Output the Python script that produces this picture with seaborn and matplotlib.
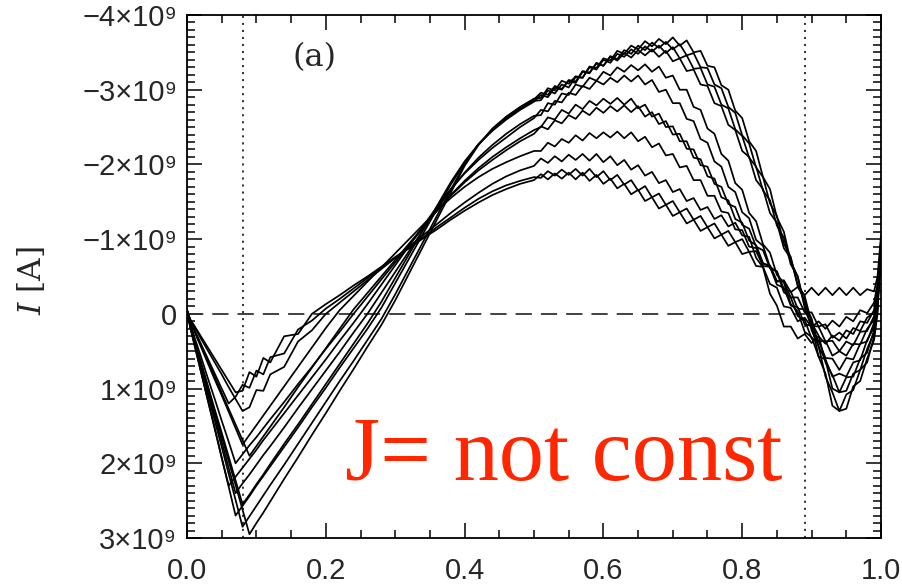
import matplotlib
matplotlib.use("Agg")
import matplotlib.pyplot as plt
from matplotlib.ticker import MultipleLocator, FuncFormatter
import pandas as pd
import seaborn as sns

# normalised position along the loop
x_pos = [0.0, 0.005, 0.01, 0.02, 0.03, 0.04, 0.05, 0.06, 0.07, 0.08, 0.09, 0.10, 0.11, 0.12,
         0.14, 0.16, 0.18, 0.20, 0.22, 0.24, 0.26, 0.28, 0.30, 0.32, 0.34, 0.36, 0.38, 0.40,
         0.42, 0.44, 0.46, 0.48, 0.50,
         0.51, 0.52, 0.53, 0.54, 0.55, 0.56, 0.57, 0.58, 0.59, 0.60,
         0.61, 0.62, 0.63, 0.64, 0.65, 0.66, 0.67, 0.68, 0.69, 0.70,
         0.71, 0.72, 0.73, 0.74, 0.75, 0.76, 0.77, 0.78, 0.79, 0.80,
         0.81, 0.82, 0.83, 0.84, 0.85, 0.86, 0.87, 0.88, 0.89, 0.90,
         0.91, 0.92, 0.93, 0.94, 0.95, 0.96, 0.97, 0.98,
         0.99, 0.995, 1.0]

# current profiles, in units of 1e9 A
i_01 = [-0.05, 0.16, 0.33, 0.66, 0.98, 1.31, 1.64, 1.97, 2.29, 2.62, 2.95, 2.80, 2.66, 2.51,
        2.21, 1.92, 1.62, 1.33, 1.03, 0.74, 0.44, 0.15, -0.18, -0.54, -0.90, -1.26, -1.62, -1.98, -2.26, -2.48, -2.64, -2.77, -2.88,
        -2.89, -3.02, -2.99, -3.12, -3.08, -3.18, -3.16, -3.31, -3.29, -3.42,
        -3.39, -3.52, -3.48, -3.59, -3.54, -3.65, -3.58, -3.68, -3.61, -3.70,
        -3.59, -3.66, -3.50, -3.52, -3.32, -3.30, -3.06, -3.00, -2.72, -2.62,
        -2.31, -2.18, -1.83, -1.67, -1.29, -1.10, -0.70, -0.50, -0.08, 0.14,
        0.57, 0.80, 1.23, 1.30, 1.27, 0.97, 0.90, 0.60,
        0.35, 0.0, -1.0]
i_02 = [-0.03, 0.18, 0.36, 0.71, 1.07, 1.43, 1.78, 2.14, 2.49, 2.85, 2.71, 2.57, 2.43, 2.29,
        2.02, 1.74, 1.46, 1.18, 0.90, 0.63, 0.35, 0.07, -0.26, -0.61, -0.96, -1.31, -1.66, -2.00, -2.27, -2.47, -2.63, -2.76, -2.87,
        -2.96, -2.93, -3.05, -3.01, -3.12, -3.09, -3.24, -3.22, -3.36, -3.32,
        -3.45, -3.41, -3.53, -3.48, -3.59, -3.53, -3.63, -3.56, -3.64, -3.54,
        -3.61, -3.46, -3.49, -3.30, -3.29, -3.07, -3.02, -2.77, -2.69, -2.39,
        -2.28, -1.96, -1.83, -1.48, -1.31, -0.94, -0.76, -0.37, -0.18, 0.22,
        0.43, 0.84, 1.05, 1.30, 1.08, 1.02, 0.75, 0.65,
        0.30, -0.05, -0.95]
i_03 = [-0.06, 0.19, 0.39, 0.77, 1.16, 1.54, 1.93, 2.31, 2.70, 2.57, 2.44, 2.30, 2.17, 2.04,
        1.78, 1.52, 1.25, 0.99, 0.72, 0.46, 0.20, -0.08, -0.41, -0.74, -1.07, -1.40, -1.73, -2.02, -2.27, -2.46, -2.61, -2.74, -2.85,
        -2.86, -2.99, -2.95, -3.07, -3.03, -3.17, -3.16, -3.30, -3.27, -3.40,
        -3.36, -3.48, -3.44, -3.54, -3.48, -3.58, -3.51, -3.59, -3.49, -3.57,
        -3.42, -3.46, -3.28, -3.29, -3.07, -3.04, -2.80, -2.75, -2.47, -2.38,
        -2.09, -1.97, -1.65, -1.52, -1.18, -1.02, -0.66, -0.50, -0.12, 0.06,
        0.44, 0.62, 1.00, 1.05, 1.03, 0.80, 0.75, 0.47,
        0.25, -0.10, -0.85]
i_04 = [-0.04, 0.16, 0.32, 0.64, 0.96, 1.28, 1.59, 1.91, 2.23, 2.55, 2.42, 2.28, 2.15, 2.01,
        1.74, 1.48, 1.21, 0.94, 0.67, 0.40, 0.13, -0.16, -0.48, -0.80, -1.12, -1.44, -1.76, -2.04, -2.27, -2.45, -2.60, -2.73, -2.84,
        -2.93, -2.90, -3.03, -3.00, -3.13, -3.11, -3.25, -3.23, -3.35, -3.32,
        -3.44, -3.39, -3.49, -3.43, -3.53, -3.46, -3.54, -3.44, -3.52, -3.38,
        -3.42, -3.25, -3.27, -3.07, -3.05, -2.82, -2.78, -2.53, -2.46, -2.18,
        -2.10, -1.79, -1.67, -1.35, -1.22, -0.88, -0.74, -0.39, -0.24, 0.12,
        0.29, 0.65, 0.82, 1.05, 0.85, 0.84, 0.60, 0.52,
        0.22, -0.10, -0.90]
i_05 = [-0.05, 0.17, 0.34, 0.69, 1.03, 1.37, 1.71, 2.06, 2.40, 2.27, 2.15, 2.02, 1.89, 1.77,
        1.52, 1.26, 1.01, 0.76, 0.51, 0.25, 0.00, -0.28, -0.56, -0.84, -1.12, -1.40, -1.66, -1.89, -2.09, -2.26, -2.41, -2.54, -2.65,
        -2.66, -2.82, -2.80, -2.95, -2.93, -3.07, -3.04, -3.16, -3.12, -3.24,
        -3.19, -3.30, -3.24, -3.33, -3.26, -3.34, -3.24, -3.31, -3.16, -3.19,
        -3.00, -3.00, -2.77, -2.73, -2.48, -2.41, -2.14, -2.05, -1.75, -1.66,
        -1.35, -1.24, -0.93, -0.82, -0.52, -0.42, -0.13, -0.03, 0.24, 0.31,
        0.57, 0.61, 0.84, 0.80, 0.84, 0.65, 0.62, 0.35,
        0.18, -0.15, -0.80]
i_06 = [-0.02, 0.19, 0.38, 0.77, 1.15, 1.53, 1.92, 2.30, 2.18, 2.06, 1.94, 1.82, 1.69, 1.57,
        1.33, 1.09, 0.85, 0.61, 0.36, 0.12, -0.13, -0.39, -0.65, -0.91, -1.17, -1.43, -1.67, -1.88, -2.06, -2.22, -2.36, -2.50, -2.62,
        -2.73, -2.71, -2.85, -2.83, -2.96, -2.93, -3.05, -3.01, -3.12, -3.07,
        -3.16, -3.10, -3.19, -3.11, -3.19, -3.07, -3.13, -2.97, -3.00, -2.82,
        -2.82, -2.61, -2.58, -2.34, -2.29, -2.04, -1.97, -1.70, -1.63, -1.36,
        -1.28, -0.99, -0.91, -0.63, -0.56, -0.29, -0.22, 0.03, 0.08, 0.33,
        0.36, 0.59, 0.60, 0.75, 0.59, 0.61, 0.40, 0.37,
        0.12, -0.20, -0.75]
i_07 = [-0.04, 0.14, 0.29, 0.57, 0.86, 1.14, 1.43, 1.71, 2.00, 1.88, 1.76, 1.65, 1.53, 1.41,
        1.18, 0.94, 0.71, 0.47, 0.24, 0.00, -0.23, -0.46, -0.69, -0.92, -1.15, -1.38, -1.59, -1.78, -1.95, -2.10, -2.23, -2.35, -2.46,
        -2.50, -2.63, -2.60, -2.73, -2.68, -2.80, -2.74, -2.85, -2.79, -2.88,
        -2.81, -2.89, -2.80, -2.88, -2.75, -2.80, -2.64, -2.68, -2.50, -2.51,
        -2.31, -2.31, -2.09, -2.07, -1.84, -1.81, -1.56, -1.52, -1.27, -1.22,
        -0.98, -0.92, -0.68, -0.63, -0.39, -0.35, -0.11, -0.09, 0.14, 0.16,
        0.37, 0.36, 0.56, 0.50, 0.56, 0.40, 0.41, 0.20,
        0.08, -0.20, -0.70]
i_08 = [-0.03, 0.11, 0.21, 0.42, 0.63, 0.84, 1.06, 1.27, 1.48, 1.69, 1.90, 1.77, 1.64, 1.51,
        1.25, 0.98, 0.72, 0.46, 0.20, -0.06, -0.28, -0.50, -0.72, -0.94, -1.16, -1.38, -1.58, -1.76, -1.92, -2.06, -2.19, -2.31, -2.41,
        -2.51, -2.47, -2.59, -2.55, -2.66, -2.61, -2.72, -2.66, -2.76, -2.69,
        -2.78, -2.71, -2.79, -2.70, -2.78, -2.64, -2.70, -2.54, -2.58, -2.40,
        -2.41, -2.21, -2.20, -1.99, -1.97, -1.74, -1.70, -1.47, -1.43, -1.19,
        -1.14, -0.90, -0.85, -0.61, -0.57, -0.33, -0.30, -0.07, -0.06, 0.16,
        0.17, 0.37, 0.36, 0.50, 0.37, 0.42, 0.24, 0.23,
        0.03, -0.25, -0.80]
i_09 = [-0.05, 0.11, 0.22, 0.44, 0.66, 0.88, 1.09, 1.31, 1.53, 1.75, 1.62, 1.49, 1.36, 1.23,
        0.97, 0.71, 0.45, 0.19, -0.05, -0.24, -0.43, -0.62, -0.81, -1.00, -1.19, -1.38, -1.55, -1.70, -1.83, -1.94, -2.03, -2.11, -2.18,
        -2.18, -2.29, -2.24, -2.34, -2.29, -2.39, -2.32, -2.42, -2.35, -2.43,
        -2.36, -2.44, -2.35, -2.43, -2.31, -2.37, -2.23, -2.28, -2.12, -2.14,
        -1.96, -1.98, -1.79, -1.79, -1.58, -1.58, -1.37, -1.35, -1.13, -1.12,
        -0.90, -0.88, -0.67, -0.65, -0.44, -0.43, -0.22, -0.22, -0.02, -0.02,
        0.17, 0.14, 0.32, 0.25, 0.33, 0.19, 0.23, 0.05,
        -0.02, -0.30, -0.85]
i_10 = [-0.04, 0.08, 0.16, 0.33, 0.49, 0.65, 0.81, 0.98, 1.14, 1.30, 1.25, 1.02, 1.03, 0.81,
        0.71, 0.37, 0.22, 0.00, -0.15, -0.30, -0.45, -0.60, -0.75, -0.90, -1.05, -1.20, -1.35, -1.49, -1.62, -1.74, -1.84, -1.92, -1.98,
        -2.08, -2.02, -2.11, -2.04, -2.13, -2.06, -2.14, -2.05, -2.14, -2.03,
        -2.11, -1.99, -2.06, -1.93, -1.99, -1.85, -1.90, -1.75, -1.79, -1.63,
        -1.67, -1.51, -1.55, -1.39, -1.43, -1.27, -1.32, -1.17, -1.22, -1.05,
        -1.03, -0.75, -0.62, -0.27, -0.11, 0.17, 0.17, 0.33, 0.27, 0.39,
        0.30, 0.40, 0.29, 0.36, 0.22, 0.27, 0.10, 0.12,
        -0.05, -0.35, -0.90]
i_11 = [-0.06, 0.10, 0.20, 0.40, 0.60, 0.80, 1.00, 1.20, 1.11, 0.95, 0.99, 0.76, 0.81, 0.58,
        0.53, 0.21, 0.09, -0.07, -0.20, -0.34, -0.48, -0.61, -0.75, -0.88, -1.02, -1.16, -1.29, -1.42, -1.54, -1.64, -1.72, -1.78, -1.83,
        -1.82, -1.91, -1.85, -1.93, -1.86, -1.94, -1.85, -1.94, -1.83, -1.91,
        -1.79, -1.86, -1.73, -1.79, -1.65, -1.71, -1.56, -1.61, -1.46, -1.51,
        -1.36, -1.41, -1.26, -1.31, -1.16, -1.21, -1.06, -1.11, -0.96, -1.00,
        -0.83, -0.84, -0.64, -0.63, -0.43, -0.45, -0.29, -0.36, -0.25, -0.35,
        -0.25, -0.35, -0.25, -0.35, -0.25, -0.35, -0.25, -0.33,
        -0.30, -0.50, -1.05]
i_12 = [-0.03, 0.08, 0.15, 0.30, 0.45, 0.60, 0.75, 0.90, 1.05, 1.03, 0.78, 0.84, 0.59, 0.65,
        0.30, 0.27, 0.00, -0.13, -0.25, -0.38, -0.50, -0.63, -0.76, -0.88, -1.01, -1.13, -1.26, -1.38, -1.49, -1.59, -1.67, -1.74, -1.79,
        -1.87, -1.80, -1.88, -1.81, -1.89, -1.80, -1.89, -1.78, -1.86, -1.74,
        -1.81, -1.68, -1.74, -1.60, -1.66, -1.51, -1.56, -1.41, -1.46, -1.31,
        -1.36, -1.21, -1.26, -1.11, -1.16, -1.01, -1.06, -0.91, -0.96, -0.80,
        -0.83, -0.64, -0.63, -0.40, -0.35, -0.10, -0.08, 0.10, 0.05, 0.18,
        0.10, 0.20, 0.09, 0.17, 0.04, 0.10, -0.05, -0.01,
        -0.15, -0.40, -0.95]

profiles = [i_01, i_02, i_03, i_04, i_05, i_06, i_07, i_08, i_09, i_10, i_11, i_12]
UNIT = 1e9

# reference markers and axis ticks
x_marks = [0.08, 0.89]
y_ticks = [-4, -3, -2, -1, 0, 1, 2, 3]
x_ticks = [0.0, 0.2, 0.4, 0.6, 0.8, 1.0]

rows = []
for k, prof in enumerate(profiles):
    assert len(prof) == len(x_pos), (k, len(prof))
    for xv, iv in zip(x_pos, prof):
        rows.append({"x": xv, "I": iv * UNIT, "run": k})
df = pd.DataFrame(rows)

sns.set_style("ticks")
plt.rcParams["font.family"] = ["Liberation Sans", "DejaVu Sans"]
plt.rcParams["mathtext.fontset"] = "dejavuserif"

fig = plt.figure(figsize=(9.03, 5.87), dpi=100)
ax = fig.add_axes([187 / 903, 1 - 538 / 587, (881 - 187) / 903, (538 - 15) / 587])

sns.lineplot(data=df, x="x", y="I", units="run", estimator=None, color="black",
             linewidth=1.25, legend=False, ax=ax, zorder=3)

ax.axhline(0, color="#333333", lw=1.3, ls=(0, (9, 5)), zorder=2)
for xm in x_marks:
    ax.axvline(xm, color="black", lw=1.1, ls=(0, (1.4, 3.2)), zorder=2)

ax.set_xlim(0, 1)
ax.set_ylim(y_ticks[-1] * UNIT, y_ticks[0] * UNIT)

def y_fmt(v, pos):
    k = int(round(v / UNIT))
    if k == 0:
        return "0"
    return ("\u2212" if k < 0 else "") + f"{abs(k)}\u00d710\u2079"

ax.set_yticks([t * UNIT for t in y_ticks])
ax.yaxis.set_major_formatter(FuncFormatter(y_fmt))
ax.yaxis.set_minor_locator(MultipleLocator(0.1 * UNIT))
ax.set_xticks(x_ticks)
ax.set_xticklabels([f"{t:.1f}" for t in x_ticks])
ax.xaxis.set_minor_locator(MultipleLocator(0.05))

ax.tick_params(which="both", direction="in", top=True, right=True,
               width=1.1, color="black", labelsize=21)
ax.tick_params(which="major", length=11)
ax.tick_params(which="minor", length=5.5)
ax.tick_params(axis="x", which="major", pad=14)
ax.tick_params(axis="y", which="major", pad=7)
for sp in ax.spines.values():
    sp.set_linewidth(1.3)
    sp.set_color("black")

ax.set_xlabel("")
ax.set_ylabel("$I$ [A]", fontsize=22.5, family="DejaVu Serif")
ax.yaxis.set_label_coords(-0.200, 0.493)

ax.text(0.184, 0.918, "(a)", transform=ax.transAxes, ha="center", va="center",
        fontsize=23, family="DejaVu Serif")
ax.text(0.2277, 0.111, "J= not const", transform=ax.transAxes, ha="left",
        va="baseline", fontsize=65, family=["Liberation Serif", "DejaVu Serif"],
        color="#ff2600")

fig.savefig("out.png", dpi=100)
